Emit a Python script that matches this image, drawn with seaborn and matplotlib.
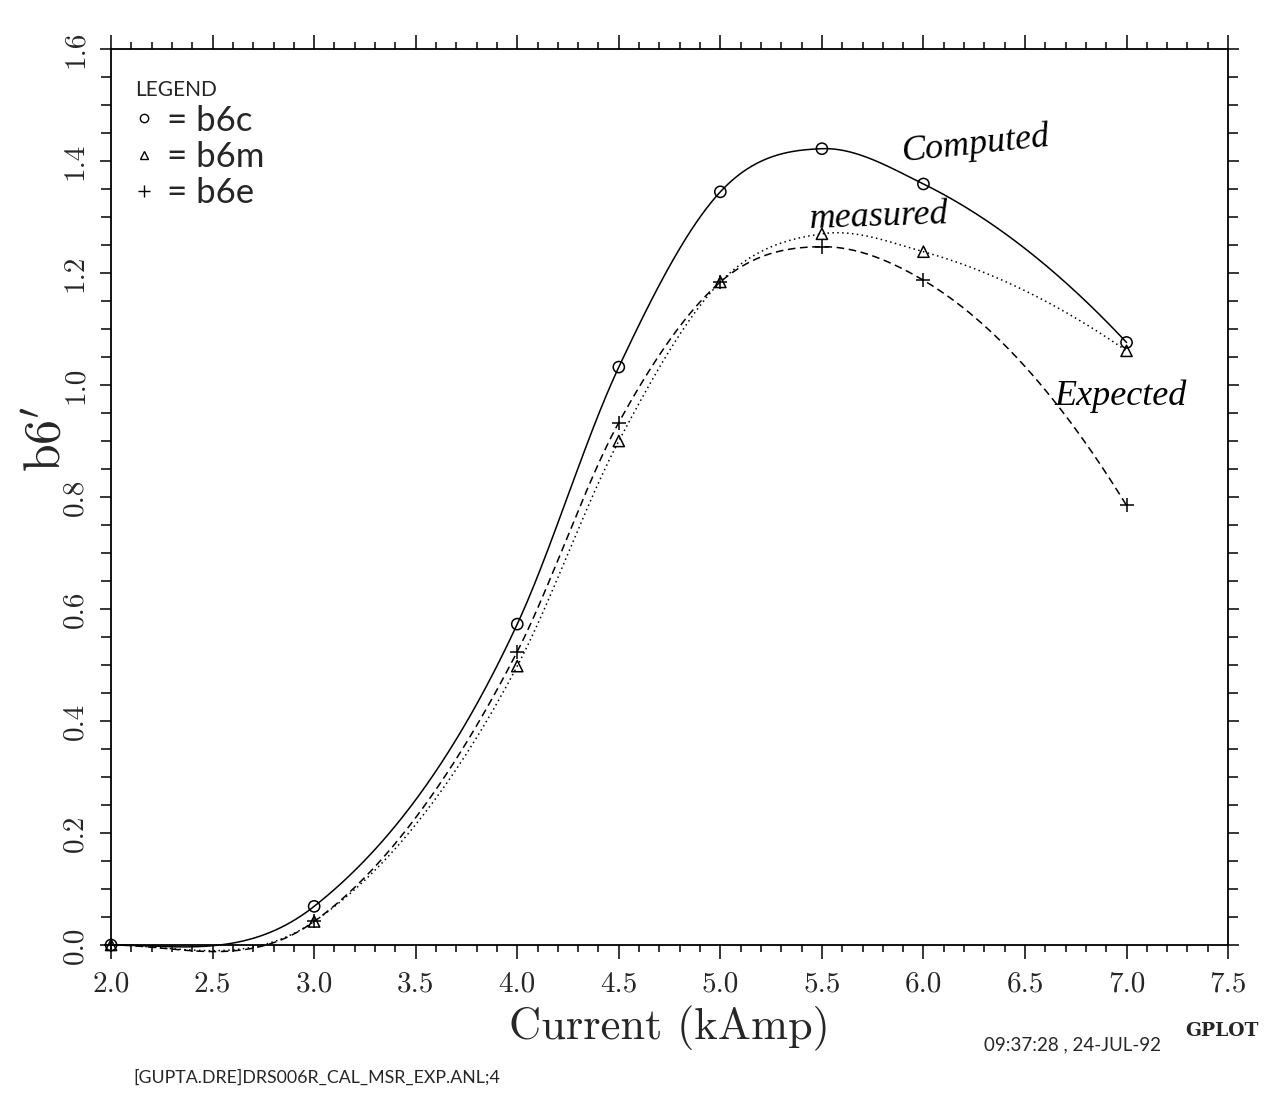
import numpy as np
import pandas as pd
import matplotlib
matplotlib.use("Agg")
import matplotlib.pyplot as plt
from matplotlib.lines import Line2D
from matplotlib.ticker import MultipleLocator, FormatStrFormatter
import seaborn as sns

# ---------------- data ----------------
current = [2.0, 3.0, 4.0, 4.5, 5.0, 5.5, 6.0, 7.0]
b6c = [0.0, 0.069, 0.573, 1.032, 1.345, 1.422, 1.359, 1.076]   # computed
b6m = [0.0, 0.042, 0.498, 0.900, 1.184, 1.270, 1.238, 1.061]   # measured
b6e = [0.0, 0.042, 0.524, 0.933, 1.184, 1.247, 1.187, 0.785]   # expected
series_names = ["b6c", "b6m", "b6e"]
x_ticks = [2.0, 2.5, 3.0, 3.5, 4.0, 4.5, 5.0, 5.5, 6.0, 6.5, 7.0, 7.5]
y_ticks = [0.0, 0.2, 0.4, 0.6, 0.8, 1.0, 1.2, 1.4, 1.6]

sns.set_theme(style="ticks")
plt.rcParams["font.family"] = ["DejaVu Sans"]
plt.rcParams["mathtext.fontset"] = "cm"


def smooth_curve(x, y, per_seg=80):
    """Smooth cubic Hermite curve (three-point parabolic tangents) through the points."""
    x = np.asarray(x, float)
    y = np.asarray(y, float)
    k = len(x)
    h = np.diff(x)
    d = np.diff(y) / h
    m = np.zeros(k)
    for i in range(1, k - 1):
        m[i] = (h[i] * d[i - 1] + h[i - 1] * d[i]) / (h[i - 1] + h[i])
    m0 = d[0] - (d[1] - d[0]) * h[0] / (h[0] + h[1])
    m[0] = max(m0, 0.0)
    m[-1] = d[-1] + (d[-1] - d[-2]) * h[-1] / (h[-2] + h[-1])
    xs_all, ys_all = [], []
    for i in range(k - 1):
        t = np.linspace(0, 1, per_seg, endpoint=(i == k - 2))
        h00 = 2 * t**3 - 3 * t**2 + 1
        h10 = t**3 - 2 * t**2 + t
        h01 = -2 * t**3 + 3 * t**2
        h11 = t**3 - t**2
        xs_all.append(x[i] + t * h[i])
        ys_all.append(h00 * y[i] + h10 * h[i] * m[i] + h01 * y[i + 1] + h11 * h[i] * m[i + 1])
    return np.concatenate(xs_all), np.concatenate(ys_all)


fig = plt.figure(figsize=(12.81, 10.94), dpi=100)
ax = fig.add_axes([0.0867, 0.1362, 0.872, 0.819])

styles = {"b6c": "-", "b6m": (0, (1, 2.2)), "b6e": (0, (5, 3))}
markers = {"b6c": "o", "b6m": "^", "b6e": "+"}
values = {"b6c": b6c, "b6m": b6m, "b6e": b6e}

for name in series_names:
    xs, ys = smooth_curve(current, values[name])
    sns.lineplot(x=xs, y=ys, ax=ax, color="black", linewidth=1.1,
                 linestyle=styles[name], sort=False, estimator=None, clip_on=False)
    if markers[name] == "+":
        sns.scatterplot(x=current, y=values[name], ax=ax, marker="+", s=100,
                        color="black", linewidth=1.1, zorder=5, clip_on=False)
    else:
        sns.scatterplot(x=current, y=values[name], ax=ax, marker=markers[name],
                        s=65, facecolor="none", edgecolor="black",
                        linewidth=1.1, zorder=5, clip_on=False)

ax.set_xlim(2.0, 7.5)
ax.set_ylim(0.0, 1.6)
ax.xaxis.set_major_locator(MultipleLocator(0.5))
ax.xaxis.set_minor_locator(MultipleLocator(0.1))
ax.yaxis.set_major_locator(MultipleLocator(0.2))
ax.yaxis.set_minor_locator(MultipleLocator(0.05))
ax.set_xticks(x_ticks)
ax.set_yticks(y_ticks)
ax.xaxis.set_major_formatter(FormatStrFormatter("%.1f"))
ax.yaxis.set_major_formatter(FormatStrFormatter("%.1f"))

for s in ax.spines.values():
    s.set_visible(True)
    s.set_linewidth(1.3)
    s.set_color("black")

ax.tick_params(axis="both", which="both", direction="out", top=True, right=True,
               color="black", width=1.1)
ax.tick_params(axis="x", which="major", length=10, pad=9)
ax.tick_params(axis="x", which="minor", length=5)
ax.tick_params(axis="y", which="major", length=8, pad=8)
ax.tick_params(axis="y", which="minor", length=7)

for lab in ax.get_xticklabels():
    lab.set_fontfamily("cmr10")
    lab.set_fontsize(21)
for lab in ax.get_yticklabels():
    lab.set_fontfamily("cmr10")
    lab.set_fontsize(21)
    lab.set_rotation(90)
    lab.set_va("center")

ax.set_xlabel("Current (kAmp)", fontfamily="cmr10", fontsize=32, labelpad=6)
ax.set_ylabel(r"$\mathrm{b6}'$", fontsize=36)
ax.yaxis.set_label_coords(-0.036, 0.565)

# legend
handles = [
    Line2D([], [], marker="o", linestyle="None", markerfacecolor="none",
           markeredgecolor="black", markersize=6),
    Line2D([], [], marker="^", linestyle="None", markerfacecolor="none",
           markeredgecolor="black", markersize=6),
    Line2D([], [], marker="+", linestyle="None", color="black", markersize=8),
]
labels = ["= " + n for n in series_names]
leg = ax.legend(handles, labels, title="LEGEND", loc="upper left",
                bbox_to_anchor=(0.0, 0.992), frameon=False,
                prop={"family": "Lato", "size": 25},
                handlelength=0.5, handletextpad=0.4, labelspacing=0.12,
                alignment="left", borderpad=0.2)
leg.get_title().set_fontfamily("Lato")
leg.get_title().set_fontsize(15)

# handwritten annotations
hand = dict(fontfamily="Liberation Serif", fontstyle="italic", fontsize=26,
            color="black", ha="center", va="center")
ax.text(6.26, 1.43, "Computed", rotation=6, **hand)
ax.text(5.78, 1.30, "measured", rotation=2, **hand)
ax.text(6.97, 0.98, "Expected", rotation=0, **hand)

# footer texts
fig.text(0.768, 0.045, "09:37:28 , 24-JUL-92", fontfamily="Lato",
         fontsize=13.5, va="center")
fig.text(0.925, 0.058, "GPLOT", fontfamily="DejaVu Serif", fontweight="bold",
         fontsize=13.5, va="center")
fig.text(0.104, 0.015, "[GUPTA.DRE]DRS006R_CAL_MSR_EXP.ANL;4", fontfamily="Lato",
         fontsize=12.8, va="center")

fig.savefig("out.png", dpi=100, facecolor="white")
